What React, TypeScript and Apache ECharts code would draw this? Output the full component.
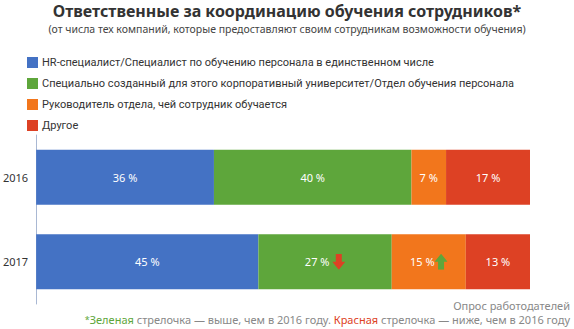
import React, { useEffect, useRef } from "react";
import * as echarts from "echarts";

const years = ["2016", "2017"];
const seriesNames = [
  "HR-специалист/Специалист по обучению персонала в единственном числе",
  "Специально созданный для этого корпоративный университет/Отдел обучения персонала",
  "Руководитель отдела, чей сотрудник обучается",
  "Другое",
];
const values2016 = [36, 40, 7, 17];
const values2017 = [45, 27, 15, 13];
// change marks for 2017 relative to 2016
const arrows2017 = ["", "down", "up", ""];
const colors = ["#4472c4", "#5ea63b", "#f2761c", "#dd4124"];

const arrowSvg = (dir: string, color: string) => {
  const pts =
    dir === "down"
      ? "3.5,0 9.5,0 9.5,8 13,8 6.5,16 0,8 3.5,8"
      : "6.5,0 13,8 9.5,8 9.5,16 3.5,16 3.5,8 0,8";
  const svg = `<svg xmlns="http://www.w3.org/2000/svg" width="13" height="16" viewBox="0 0 13 16"><polygon points="${pts}" fill="${color}"/></svg>`;
  return "data:image/svg+xml;charset=utf-8," + encodeURIComponent(svg);
};

export default function App() {
  const ref = useRef<HTMLDivElement>(null);
  useEffect(() => {
    document.body.style.margin = "0";
    if (!ref.current) return;
    const chart = echarts.init(ref.current, null, { renderer: "svg" });
    const font = "'Noto Sans', sans-serif";
    const legendFont = "Roboto, 'Noto Sans', sans-serif";
    const series = seriesNames.map((name, i) => ({
      name,
      type: "bar",
      stack: "total",
      barWidth: 55,
      itemStyle: { color: colors[i] },
      data: [values2016[i], values2017[i]],
      label: {
        show: true,
        position: "inside",
        color: "#fff",
        fontSize: 11,
        fontFamily: font,
        formatter: (p: any) => {
          const a = p.dataIndex === 1 ? arrows2017[i] : "";
          if (a === "down") return `{v|${p.value} %} {dn|}`;
          if (a === "up") return `{v|${p.value} %}{up|}`;
          return `{v|${p.value} %}`;
        },
        rich: {
          v: { color: "#fff", fontSize: 11, fontFamily: font },
          dn: {
            width: 13,
            height: 16,
            backgroundColor: { image: arrowSvg("down", "#dd4124") },
          },
          up: {
            width: 13,
            height: 16,
            backgroundColor: { image: arrowSvg("up", "#5ea63b") },
          },
        },
      },
    }));
    chart.setOption({
      animation: false,
      title: [
        {
          text: "Ответственные за координацию обучения сотрудников*",
          left: "center",
          top: 2,
          padding: 0,
          textStyle: { fontSize: 16, fontWeight: "bold", color: "#333", fontFamily: font, lineHeight: 18 },
        },
        {
          text: "(от числа тех компаний, которые предоставляют своим сотрудникам возможности обучения)",
          left: "center",
          top: 22,
          padding: 0,
          textStyle: { fontSize: 10.5, fontWeight: "normal", color: "#444", fontFamily: font, lineHeight: 13 },
        },
      ],
      legend: {
        orient: "vertical",
        left: 22,
        top: 52,
        itemWidth: 11,
        itemHeight: 11,
        itemGap: 10,
        icon: "rect",
        selectedMode: false,
        textStyle: { fontSize: 11, color: "#333", fontFamily: legendFont, padding: [0, 0, 0, -1] },
        data: seriesNames,
      },
      grid: { left: 34, right: 44, top: 135, height: 169, containLabel: false },
      xAxis: {
        type: "value",
        min: 0,
        max: 100,
        show: false,
      },
      yAxis: {
        type: "category",
        data: years,
        inverse: true,
        axisLine: { show: true, lineStyle: { color: "#a9b8d3", width: 1 } },
        axisTick: { show: false },
        axisLabel: { color: "#333", fontSize: 11, fontFamily: font, margin: 8 },
      },
      series,
      graphic: [
        {
          type: "text",
          right: 4,
          top: 300,
          style: {
            text: "Опрос работодателей",
            fill: "#888",
            fontSize: 11,
            fontFamily: font,
          },
        },
        {
          type: "text",
          right: 4,
          top: 314,
          style: {
            text:
              "{g|*}{gg|Зеленая}{n| стрелочка — выше, чем в 2016 году. }{r|Красная}{n| стрелочка — ниже, чем в 2016 году}",
            fontFamily: font,
            fontSize: 11,
            rich: {
              g: { fill: "#5ea63b", fontSize: 9, fontFamily: font },
              gg: { fill: "#5ea63b", fontSize: 11, fontFamily: font },
              r: { fill: "#dd4124", fontSize: 11, fontFamily: font },
              n: { fill: "#888", fontSize: 11, fontFamily: font },
            },
          },
        },
      ],
    });
    return () => chart.dispose();
  }, []);
  return <div ref={ref} style={{ width: 574, height: 329 }} />;
}
